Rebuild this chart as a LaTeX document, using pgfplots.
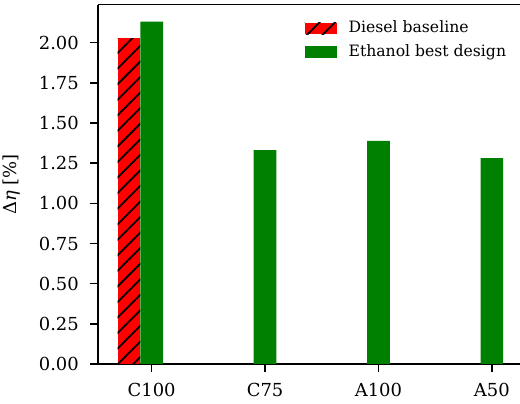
\documentclass[border=0pt]{standalone}
\usepackage{fontspec}
\setmainfont{DejaVu Serif}
\usepackage{pgfplots}
\pgfplotsset{compat=1.18}
\usetikzlibrary{patterns.meta}
\definecolor{mplgreen}{HTML}{008000}
\begin{document}
\fontsize{18}{21}\selectfont
\begin{tikzpicture}
\begin{axis}[
  scale only axis, width=422bp, height=359.3bp,
  xmin=-0.4735, xmax=3.248, ymin=0, ymax=2.2365,
  axis x line*=box, axis y line*=left,
  xtick pos=bottom, ytick pos=left,
  axis line style={line width=1.4bp},
  every tick/.style={line width=1.4bp, black},
  tick align=outside, major tick length=8bp,
  tick label style={font=\fontsize{18}{21}\selectfont},
  xtick={0,1,2,3}, xticklabels={C100,C75,A100,A50},
  ytick={0,0.25,0.5,0.75,1,1.25,1.5,1.75,2},
  yticklabel style={xshift=-5bp, /pgf/number format/.cd, fixed, fixed zerofill, precision=2, assume math mode=true},
  xticklabel style={yshift=-5bp, /pgf/number format/assume math mode=true},
  ylabel={Δ\textit{η} [\%]},
  ylabel style={yshift=7bp, font=\fontsize{18}{21}\selectfont},
  legend style={draw=none, fill=none, at={(axis description cs:0.482,0.966)}, anchor=north west,
    font=\fontsize{15.7}{18}\selectfont, row sep=5bp,
    /tikz/every odd column/.append style={column sep=10bp}},
  legend cell align=left,
  legend image code/.code={\draw[#1, draw=none] (0bp,-5.7bp) rectangle (32bp,5.7bp);},
]
\addplot[ybar, bar width=0.2, bar shift=-0.2, fill=red, draw=none,
  postaction={pattern={Lines[angle=45,distance=11bp,line width=1.8bp]}, pattern color=black}]
  coordinates {(0,2.027)};
\addlegendentry{Diesel baseline}
\addplot[ybar, bar width=0.2, bar shift=0, fill=mplgreen, draw=none]
  coordinates {(0,2.131) (1,1.331) (2,1.389) (3,1.281)};
\addlegendentry{Ethanol best design}
\end{axis}
\pgfresetboundingbox
\path (-98bp,-40bp) rectangle (422bp,364bp);
\end{tikzpicture}
\end{document}
